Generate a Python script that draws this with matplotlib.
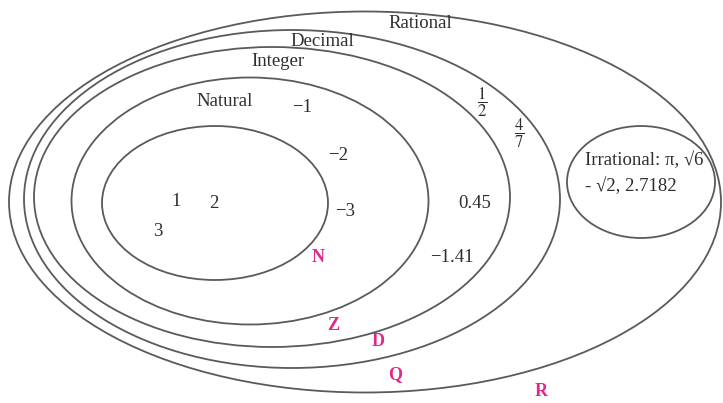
import matplotlib
matplotlib.use("Agg")
import matplotlib.pyplot as plt
from matplotlib.patches import Ellipse

# ---- data ----
set_names = ["Natural", "Integer", "Decimal", "Rational"]
set_symbols = ["N", "Z", "D", "Q", "R"]
natural_elems = ["1", "2", "3"]
integer_elems = ["\u22121", "\u22122", "\u22123"]
decimal_elems = ["0.45", "\u22121.41"]
rational_elems = [r"$\dfrac{1}{2}$", r"$\dfrac{4}{7}$"]
irrational_lines = ["Irrational: \u03c0, \u221a6", "- \u221a2, 2.7182"]

# ---- layout (pixel coordinates, y down) ----
ellipses = {  # cx, cy, width, height
    "R": (365, 202, 712, 381),
    "Q": (292, 199, 536, 338),
    "D": (272, 197, 476, 300),
    "Z": (250, 201, 357, 247),
    "N": (215, 203, 226, 154),
    "I": (641, 182, 148, 112),
}
name_pos = [(225, 102), (278, 62), (322, 42), (420, 23)]
symbol_pos = [(318, 257), (333, 325), (378, 342), (395, 375), (541, 392)]
natural_pos = [(176, 202), (214, 204), (158, 232)]
integer_pos = [(302, 107), (338, 155), (345, 211)]
decimal_pos = [(475, 204), (452, 258)]
rational_pos = [(482, 102), (519, 133)]
irr_pos = [(585, 160), (585, 186)]

plt.rcParams["mathtext.fontset"] = "stix"
serif = ["Liberation Serif", "DejaVu Serif"]

fig = plt.figure(figsize=(7.23, 4.03), dpi=100)
ax = fig.add_axes([0, 0, 1, 1])
ax.set_xlim(0, 723)
ax.set_ylim(403, 0)
ax.axis("off")

line_col = "#5a5a5a"
for key, (cx, cy, w, h) in ellipses.items():
    ax.add_patch(Ellipse((cx, cy), w, h, fill=False, edgecolor=line_col, lw=1.3))

txt_col = "#2e2e2e"
fs = 13.5
for name, (x, y) in zip(set_names, name_pos):
    ax.text(x, y, name, ha="center", va="center", fontsize=fs, family=serif, color=txt_col)
for lst, pos in [(natural_elems, natural_pos), (integer_elems, integer_pos),
                 (decimal_elems, decimal_pos)]:
    for t, (x, y) in zip(lst, pos):
        ax.text(x, y, t, ha="center", va="center", fontsize=fs, family=serif, color=txt_col)
for t, (x, y) in zip(rational_elems, rational_pos):
    ax.text(x, y, t, ha="center", va="center", fontsize=12, color=txt_col)
for t, (x, y) in zip(irrational_lines, irr_pos):
    ax.text(x, y, t, ha="left", va="center", fontsize=fs, family=serif, color=txt_col)
for s, (x, y) in zip(set_symbols, symbol_pos):
    ax.text(x, y, s, ha="center", va="center", fontsize=13, family=serif,
            fontweight="bold", color="#e0288a")

fig.savefig("out.png", dpi=100)
